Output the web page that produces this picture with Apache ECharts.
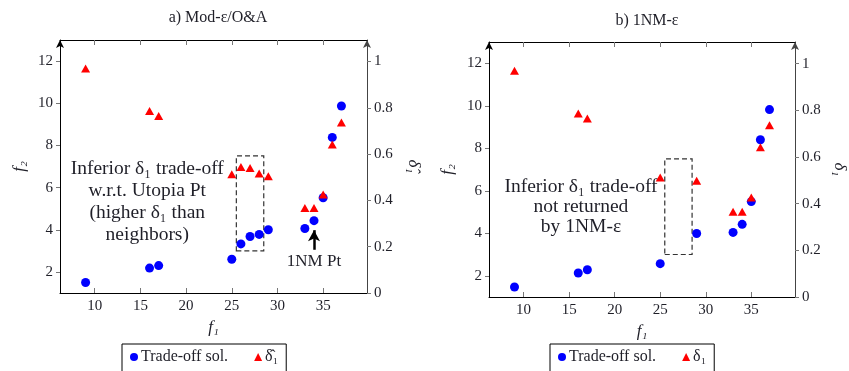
<!DOCTYPE html>
<html>
<head>
<meta charset="utf-8">
<script src="https://cdn.jsdelivr.net/npm/echarts@6/dist/echarts.min.js"></script>
<style>
html,body{margin:0;padding:0;background:#fff;}
#chart{width:849px;height:371px;}
</style>
</head>
<body>
<div id="chart"></div>
<script>
// ---- data: panel a) Mod-ε/O&A ----
const f1A = [9, 16, 17, 25, 26, 27, 28, 29, 33, 34, 35, 36, 37];
const f2A = [1.5, 2.18, 2.3, 2.6, 3.33, 3.68, 3.78, 4.0, 4.06, 4.43, 5.52, 8.38, 9.87];
const deltaA = [0.97, 0.786, 0.765, 0.513, 0.544, 0.54, 0.516, 0.504, 0.367, 0.367, 0.425, 0.642, 0.737];
// ---- data: panel b) 1NM-ε ----
const f1B = [9, 16, 17, 25, 29, 33, 34, 35, 36, 37];
const f2B = [1.47, 2.13, 2.28, 2.57, 3.99, 4.04, 4.42, 5.49, 8.4, 9.82];
const deltaB = [0.97, 0.787, 0.765, 0.512, 0.498, 0.365, 0.365, 0.426, 0.642, 0.736];
// ---- ticks ----
const f1Ticks = [10, 15, 20, 25, 30, 35];
const f2Ticks = [2, 4, 6, 8, 10, 12];
const deltaTicks = [0, 0.2, 0.4, 0.6, 0.8, 1];
// ---- annotations (data coordinates) ----
const boxRange = [[25.5, 3], [28.5, 7.5]];
const arrowFrom = [34, 3.05];
const arrowTo = [34, 3.98];
const labelNM = [34, 2.47];
const noteA = [15.75, 5.3];
const noteB = [16.3, 5.22];
const noteAText = ['Inferior δ₁ trade-off', 'w.r.t. Utopia Pt', '(higher δ₁ than', 'neighbors)'];
const noteBText = ['Inferior δ₁ trade-off', 'not returned', 'by 1NM-ε'];

const FF = '"Liberation Serif", "DejaVu Serif", serif';
const TXT = '#1f1f28';

function zip(a, b) { return a.map((v, i) => [v, b[i]]); }

function xAxis(gi, pos) {
  const bottom = pos === 'bottom';
  return {
    type: 'value', gridIndex: gi, position: pos, min: 6.2, max: 39.8,
    axisLine: { show: true, onZero: false, lineStyle: { color: '#000', width: 1 } },
    axisTick: { show: true, inside: true, length: 5, customValues: f1Ticks, lineStyle: { color: '#777' } },
    axisLabel: { show: bottom, customValues: f1Ticks, fontFamily: FF, fontSize: 15, color: TXT, margin: 6 },
    splitLine: { show: false },
    name: bottom ? 'f₁' : '', nameLocation: 'middle', nameGap: 26, nameMoveOverlap: false,
    nameTextStyle: { fontFamily: FF, fontStyle: 'italic', fontSize: 17, color: TXT }
  };
}
function yLeft(gi, gap) {
  return {
    type: 'value', gridIndex: gi, position: 'left', min: 1, max: 13,
    axisLine: { show: true, onZero: false, symbol: ['none', 'arrow'], symbolSize: [6, 8], lineStyle: { color: '#000', width: 1 } },
    axisTick: { show: true, length: 4, customValues: f2Ticks, lineStyle: { color: '#777' } },
    axisLabel: { customValues: f2Ticks, fontFamily: FF, fontSize: 15, color: TXT, margin: 7 },
    splitLine: { show: false },
    name: 'f₂', nameLocation: 'middle', nameRotate: 90, nameGap: gap, nameMoveOverlap: false,
    nameTextStyle: { fontFamily: FF, fontStyle: 'italic', fontSize: 17, color: TXT }
  };
}
function yRight(gi, nm, gap) {
  return {
    type: 'value', gridIndex: gi, position: 'right', min: 0, max: 1.093,
    axisLine: { show: true, onZero: false, symbol: ['none', 'arrow'], symbolSize: [6, 8], lineStyle: { color: '#444', width: 1 } },
    axisTick: { show: true, length: 4, customValues: deltaTicks, lineStyle: { color: '#777' } },
    axisLabel: { customValues: deltaTicks, fontFamily: FF, fontSize: 15, color: TXT, margin: 7,
      formatter: v => String(Math.round(v * 10) / 10) },
    splitLine: { show: false },
    name: nm, nameLocation: 'middle', nameRotate: -90, nameGap: gap, nameMoveOverlap: false,
    nameTextStyle: { fontFamily: FF, fontStyle: 'italic', fontSize: 17, color: TXT }
  };
}
function noteSeries(xi, yi, pt, lines, size, lh) {
  return {
    type: 'scatter', xAxisIndex: xi, yAxisIndex: yi, symbolSize: 0, silent: true,
    itemStyle: { opacity: 1 },
    data: [pt],
    label: { show: true, position: 'inside', formatter: lines.join('\n'), fontFamily: FF,
      fontSize: size, lineHeight: lh, color: TXT, opacity: 1, align: 'center', verticalAlign: 'middle' },
    z: 1
  };
}
function legend(left) {
  return {
    left: left, top: 344, orient: 'horizontal',
    itemWidth: 8, itemHeight: 8, itemGap: 26,
    padding: [5, 8, 14, 8],
    borderColor: '#000', borderWidth: 1,
    itemStyle: { opacity: 1 },
    textStyle: { fontFamily: FF, fontSize: 16, color: TXT, padding: [0, 0, 0, -2] }
  };
}

const blueStyle = { color: '#0000ff', opacity: 1 };
const redStyle = { color: '#ff0000', opacity: 1 };

const option = {
  animation: false,
  backgroundColor: '#fff',
  title: [
    { text: 'a) Mod-ε/O&A', left: 213, top: 5, textAlign: 'center',
      textStyle: { fontFamily: FF, fontSize: 16, fontWeight: 'normal', color: TXT } },
    { text: 'b) 1NM-ε', left: 642, top: 8, textAlign: 'center',
      textStyle: { fontFamily: FF, fontSize: 16, fontWeight: 'normal', color: TXT } }
  ],
  grid: [
    { left: 60, top: 40, width: 307, height: 253 },
    { left: 489, top: 42, width: 306, height: 255 }
  ],
  xAxis: [xAxis(0, 'bottom'), xAxis(0, 'top'), xAxis(1, 'bottom'), xAxis(1, 'top')],
  yAxis: [yLeft(0, 32), yRight(0, 'δ̂₁', 38), yLeft(1, 33), yRight(1, 'δ₁', 36)],
  legend: [
    Object.assign(legend(122), { data: ['Trade-off sol.', 'δ̂₁'] }),
    Object.assign(legend(550), { data: ['Trade-off sol.', 'δ₁'] })
  ],
  series: [
    {
      name: 'Trade-off sol.', type: 'scatter', xAxisIndex: 0, yAxisIndex: 0,
      symbol: 'circle', symbolSize: 9, itemStyle: blueStyle, data: zip(f1A, f2A), z: 3,
      markArea: {
        silent: true,
        itemStyle: { color: 'rgba(0,0,0,0)', borderColor: '#333', borderWidth: 1.2, borderType: [5, 3] },
        data: [[{ coord: boxRange[0] }, { coord: boxRange[1] }]]
      },
      markLine: {
        silent: true, symbol: ['none', 'arrow'], symbolSize: [9, 11],
        lineStyle: { color: '#000', width: 2.5, type: 'solid' }, label: { show: false },
        data: [[{ coord: arrowFrom }, { coord: arrowTo }]]
      }
    },
    {
      name: 'δ̂₁', type: 'scatter', xAxisIndex: 0, yAxisIndex: 1,
      symbol: 'triangle', symbolSize: [9, 8], itemStyle: redStyle, data: zip(f1A, deltaA), z: 4
    },
    {
      name: 'Trade-off sol.', type: 'scatter', xAxisIndex: 2, yAxisIndex: 2,
      symbol: 'circle', symbolSize: 9, itemStyle: blueStyle, data: zip(f1B, f2B), z: 3,
      markArea: {
        silent: true,
        itemStyle: { color: 'rgba(0,0,0,0)', borderColor: '#333', borderWidth: 1.2, borderType: [5, 3] },
        data: [[{ coord: boxRange[0] }, { coord: boxRange[1] }]]
      }
    },
    {
      name: 'δ₁', type: 'scatter', xAxisIndex: 2, yAxisIndex: 3,
      symbol: 'triangle', symbolSize: [9, 8], itemStyle: redStyle, data: zip(f1B, deltaB), z: 4
    },
    noteSeries(0, 0, noteA, noteAText, 19.5, 22),
    noteSeries(0, 0, labelNM, ['1NM Pt'], 17, 20),
    noteSeries(2, 2, noteB, noteBText, 19.5, 20)
  ]
};

const chart = echarts.init(document.getElementById('chart'), null, { renderer: 'canvas' });
chart.setOption(option);
</script>
</body>
</html>
